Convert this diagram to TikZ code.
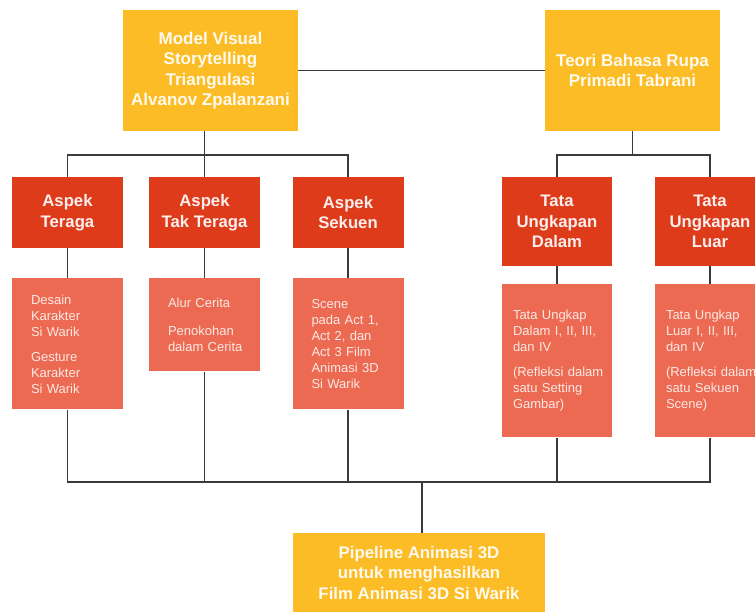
\documentclass[tikz,border=0pt]{standalone}
\usepackage{fontspec}
\setmainfont{Liberation Sans}
\usepackage{tikz}
\usetikzlibrary{positioning}
\definecolor{ylwcol}{HTML}{FBBC26}
\definecolor{redcol}{HTML}{DD3B1A}
\definecolor{salcol}{HTML}{EC6A52}
\definecolor{linecol}{HTML}{3A3A3A}

\begin{document}
\begin{tikzpicture}[x=1pt,y=-1pt,
   theory/.style={fill=ylwcol,text=white!92!ylwcol,minimum width=175pt,minimum height=121pt,
              inner sep=0pt,align=center,font=\bfseries\fontsize{17}{20.5}\selectfont},
   aspect/.style={fill=redcol,text=white!92!redcol,minimum width=111pt,minimum height=71pt,
              inner sep=0pt,align=center,font=\bfseries\fontsize{16.7}{20.5}\selectfont},
   detail/.style={fill=salcol,text=white!85!salcol,text width=87pt,inner xsep=12pt,
              align=left,font=\fontsize{13}{16}\selectfont,
              execute at begin node={\leftskip=7pt\relax}},
   tata/.style={detail,text width=100pt,inner xsep=5pt,minimum height=153pt,
              execute at begin node={\leftskip=6pt\relax}},
   link/.style={draw=linecol,line width=1.8pt},
]
\clip (0,0) rectangle (755,612);

\node[theory] (model) at (210.5,70.5) {Model Visual\\Storytelling\\Triangulasi\\Alvanov Zpalanzani};
\node[theory] (teori) at (632.5,70.5) {Teori Bahasa Rupa\\Primadi Tabrani};

\node[aspect] (teraga)    at (67.5,212.5)  {Aspek\\Teraga};
\node[aspect] (takteraga) at (204.5,212.5) {Aspek\\Tak Teraga};
\node[aspect] (sekuen)    at (348,212.5)   {Aspek\\Sekuen};
\node[aspect,minimum width=110pt,minimum height=89pt] (ungdalam) at (557,221.5) {Tata\\Ungkapan\\Dalam};
\node[aspect,minimum width=110pt,minimum height=89pt] (ungluar)  at (710,221.5) {Tata\\Ungkapan\\Luar};

\node[detail,minimum height=131pt,below=30pt of teraga] (desain)
     {Desain\\Karakter\\Si Warik\\[9pt]Gesture\\Karakter\\Si Warik};
\node[detail,minimum height=93pt,below=30pt of takteraga] (alur)
     {Alur Cerita\\[12pt]Penokohan\\dalam Cerita};
\node[detail,minimum height=131pt,below=30pt of sekuen] (scene)
     {Scene\\pada Act 1,\\Act 2, dan\\Act 3 Film\\Animasi 3D\\Si Warik};
\node[tata,below=18pt of ungdalam] (tatadalam)
     {Tata Ungkap\\Dalam I, II, III,\\dan IV\\[9pt](Refleksi dalam\\satu Setting\\Gambar)};
\node[tata,below=18pt of ungluar] (tataluar)
     {Tata Ungkap\\Luar I, II, III,\\dan IV\\[9pt](Refleksi dalam\\satu Sekuen\\Scene)};

\node[theory,minimum width=252pt,minimum height=80pt,font=\bfseries\fontsize{16.8}{20.5}\selectfont]
     (pipeline) at (419,573) {Pipeline Animasi 3D\\untuk menghasilkan\\Film Animasi 3D Si Warik};

% top level
\draw[link] (model) -- (teori);
\coordinate (forkL) at (takteraga.north |- 0,155);
\coordinate (forkR) at (teori.south |- 0,155);
\draw[link] (forkL |- model.south) -- (takteraga);
\draw[link] (teraga.north) |- (forkL) -| (sekuen.north);
\draw[link] (teori) -- (forkR);
\draw[link] (ungdalam.north) |- (forkR) -| (ungluar.north);

\foreach \a/\b in {teraga/desain,takteraga/alur,sekuen/scene,ungdalam/tatadalam,ungluar/tataluar}
   \draw[link] (\a) -- (\b);

% merge into pipeline
\coordinate (forkB) at (422,482);
\draw[link] (desain.south) |- (tataluar.south |- forkB) -- (tataluar.south);
\foreach \n in {alur,scene,tatadalam}
   \draw[link] (\n.south) -- (\n.south |- forkB);
\draw[link] (forkB) -- (forkB |- pipeline.north);
\end{tikzpicture}
\end{document}
